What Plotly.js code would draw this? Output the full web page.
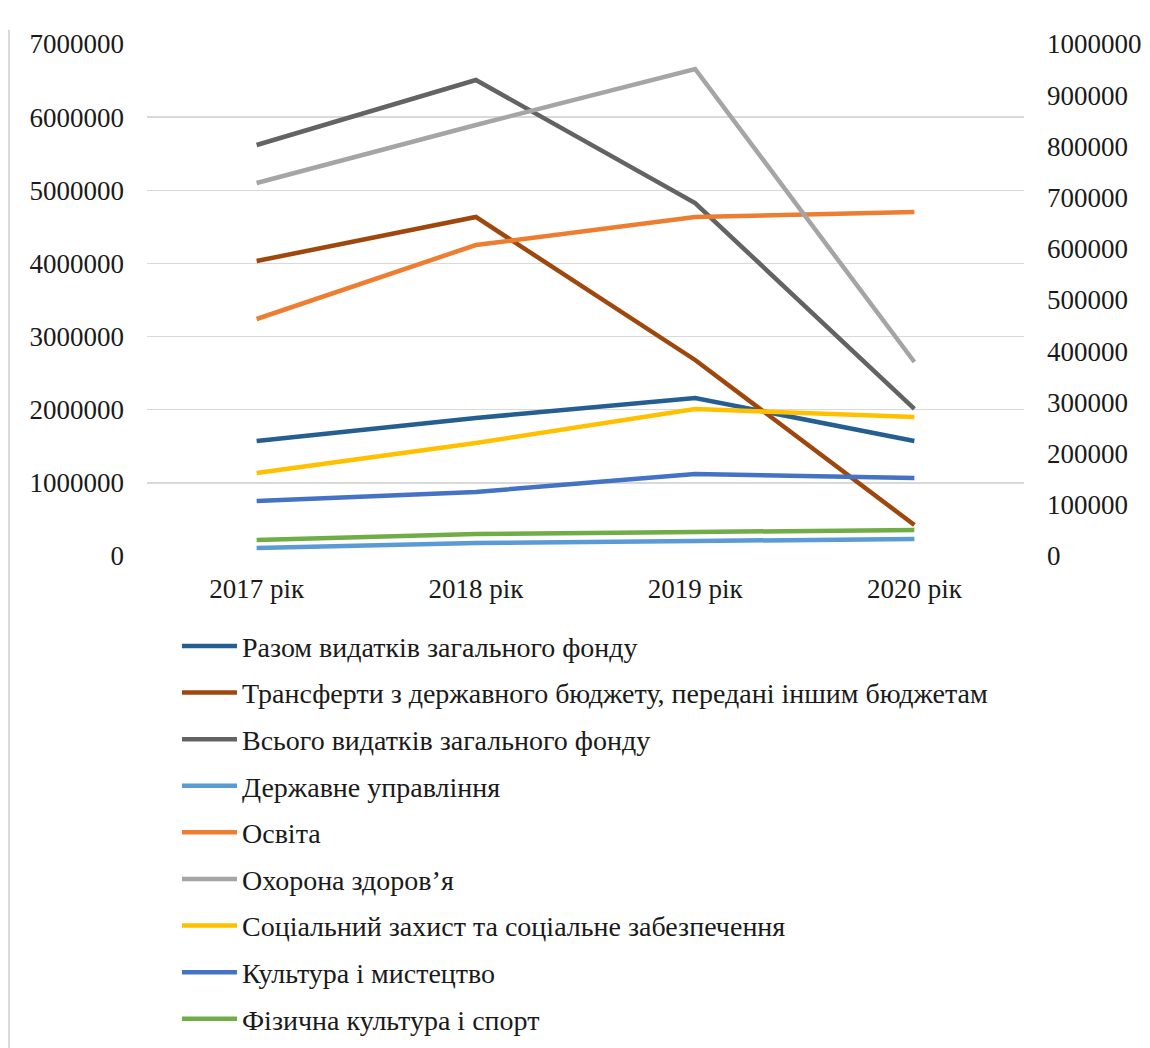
<!DOCTYPE html>
<html>
<head>
<meta charset="utf-8">
<script src="https://cdn.plot.ly/plotly-3.0.1.min.js"></script>
<style>html,body{margin:0;padding:0;background:#fff;}#chart{width:1150px;height:1048px;}</style>
</head>
<body>
<div id="chart"></div>
<script>
// Categories
const years = ["2017 рік", "2018 рік", "2019 рік", "2020 рік"];

// Left (primary) axis series
const razomVydatkiv = [1572000, 1887000, 2160000, 1572000];
const transferty = [4033000, 4635000, 2680000, 424000];
const vsogoVydatkiv = [5619000, 6508000, 4826000, 2010000];

// Right (secondary) axis series
const derzhUpravlinnia = [15600, 25400, 29300, 33200];
const osvita = [462900, 607400, 662100, 671900];
const okhoronaZdorovia = [728500, 841800, 951200, 378900];
const sotsZakhyst = [162100, 220700, 287100, 271500];
const kultura = [107400, 125000, 160200, 152300];
const fizKultura = [31300, 43000, 46900, 50800];

// Names
const names = [
  "Разом видатків загального фонду",
  "Трансферти з державного бюджету, передані іншим бюджетам",
  "Всього видатків загального фонду",
  "Державне управління",
  "Освіта",
  "Охорона здоров’я",
  "Соціальний захист та соціальне забезпечення",
  "Культура і мистецтво",
  "Фізична культура і спорт"
];
const colors = ["#255E91", "#9E480E", "#636363", "#5B9BD5", "#ED7D31", "#A5A5A5", "#FFC000", "#4472C4", "#70AD47"];
const series = [razomVydatkiv, transferty, vsogoVydatkiv, derzhUpravlinnia, osvita, okhoronaZdorovia, sotsZakhyst, kultura, fizKultura];
const axisOf = ["y", "y", "y", "y2", "y2", "y2", "y2", "y2", "y2"];

const traces = series.map((vals, i) => ({
  type: "scatter",
  mode: "lines",
  x: years,
  y: vals,
  name: names[i],
  yaxis: axisOf[i],
  legendgroup: "g" + i,
  line: {color: colors[i], width: 4.5},
  hoverinfo: "skip"
}));

const font = {family: "Liberation Serif, Times New Roman, serif", color: "#1a1a1a"};

const layout = {
  width: 1150,
  height: 1048,
  paper_bgcolor: "#ffffff",
  plot_bgcolor: "#ffffff",
  margin: {l: 147, r: 126, t: 44, b: 492, autoexpand: false},
  showlegend: true,
  font: font,
  xaxis: {
    type: "category",
    range: [-0.5, 3.5],
    showgrid: false,
    zeroline: false,
    showline: false,
    ticks: "",
    tickangle: 0,
    tickfont: {family: font.family, size: 27, color: font.color},
    ticklabelstandoff: 14
  },
  yaxis: {
    range: [0, 7000000],
    dtick: 1000000,
    tick0: 0,
    tickformat: "d",
    showgrid: true,
    gridcolor: "#D9D9D9",
    gridwidth: 1.5,
    zeroline: false,
    showline: false,
    ticks: "",
    ticklabelstandoff: 22,
    tickfont: {family: font.family, size: 27, color: font.color}
  },
  yaxis2: {
    range: [0, 1000000],
    dtick: 100000,
    tick0: 0,
    tickformat: "d",
    overlaying: "y",
    side: "right",
    showgrid: false,
    zeroline: false,
    showline: false,
    ticks: "",
    ticklabelstandoff: 22,
    tickfont: {family: font.family, size: 27, color: font.color}
  },
  legend: {
    xref: "container",
    yref: "container",
    x: 0.1539,
    y: 0.4072,
    xanchor: "left",
    yanchor: "top",
    orientation: "v",
    traceorder: "grouped",
    tracegroupgap: 7.2,
    itemwidth: 55,
    bgcolor: "rgba(0,0,0,0)",
    font: {family: font.family, size: 28, color: font.color}
  },
  shapes: [
    {type: "line", xref: "paper", yref: "paper", x0: -0.1574, x1: -0.1574, y0: -1.0, y1: 1.028, line: {color: "#D9D9D9", width: 2}}
  ]
};

Plotly.newPlot("chart", traces, layout, {displayModeBar: false, staticPlot: true});
</script>
</body>
</html>
